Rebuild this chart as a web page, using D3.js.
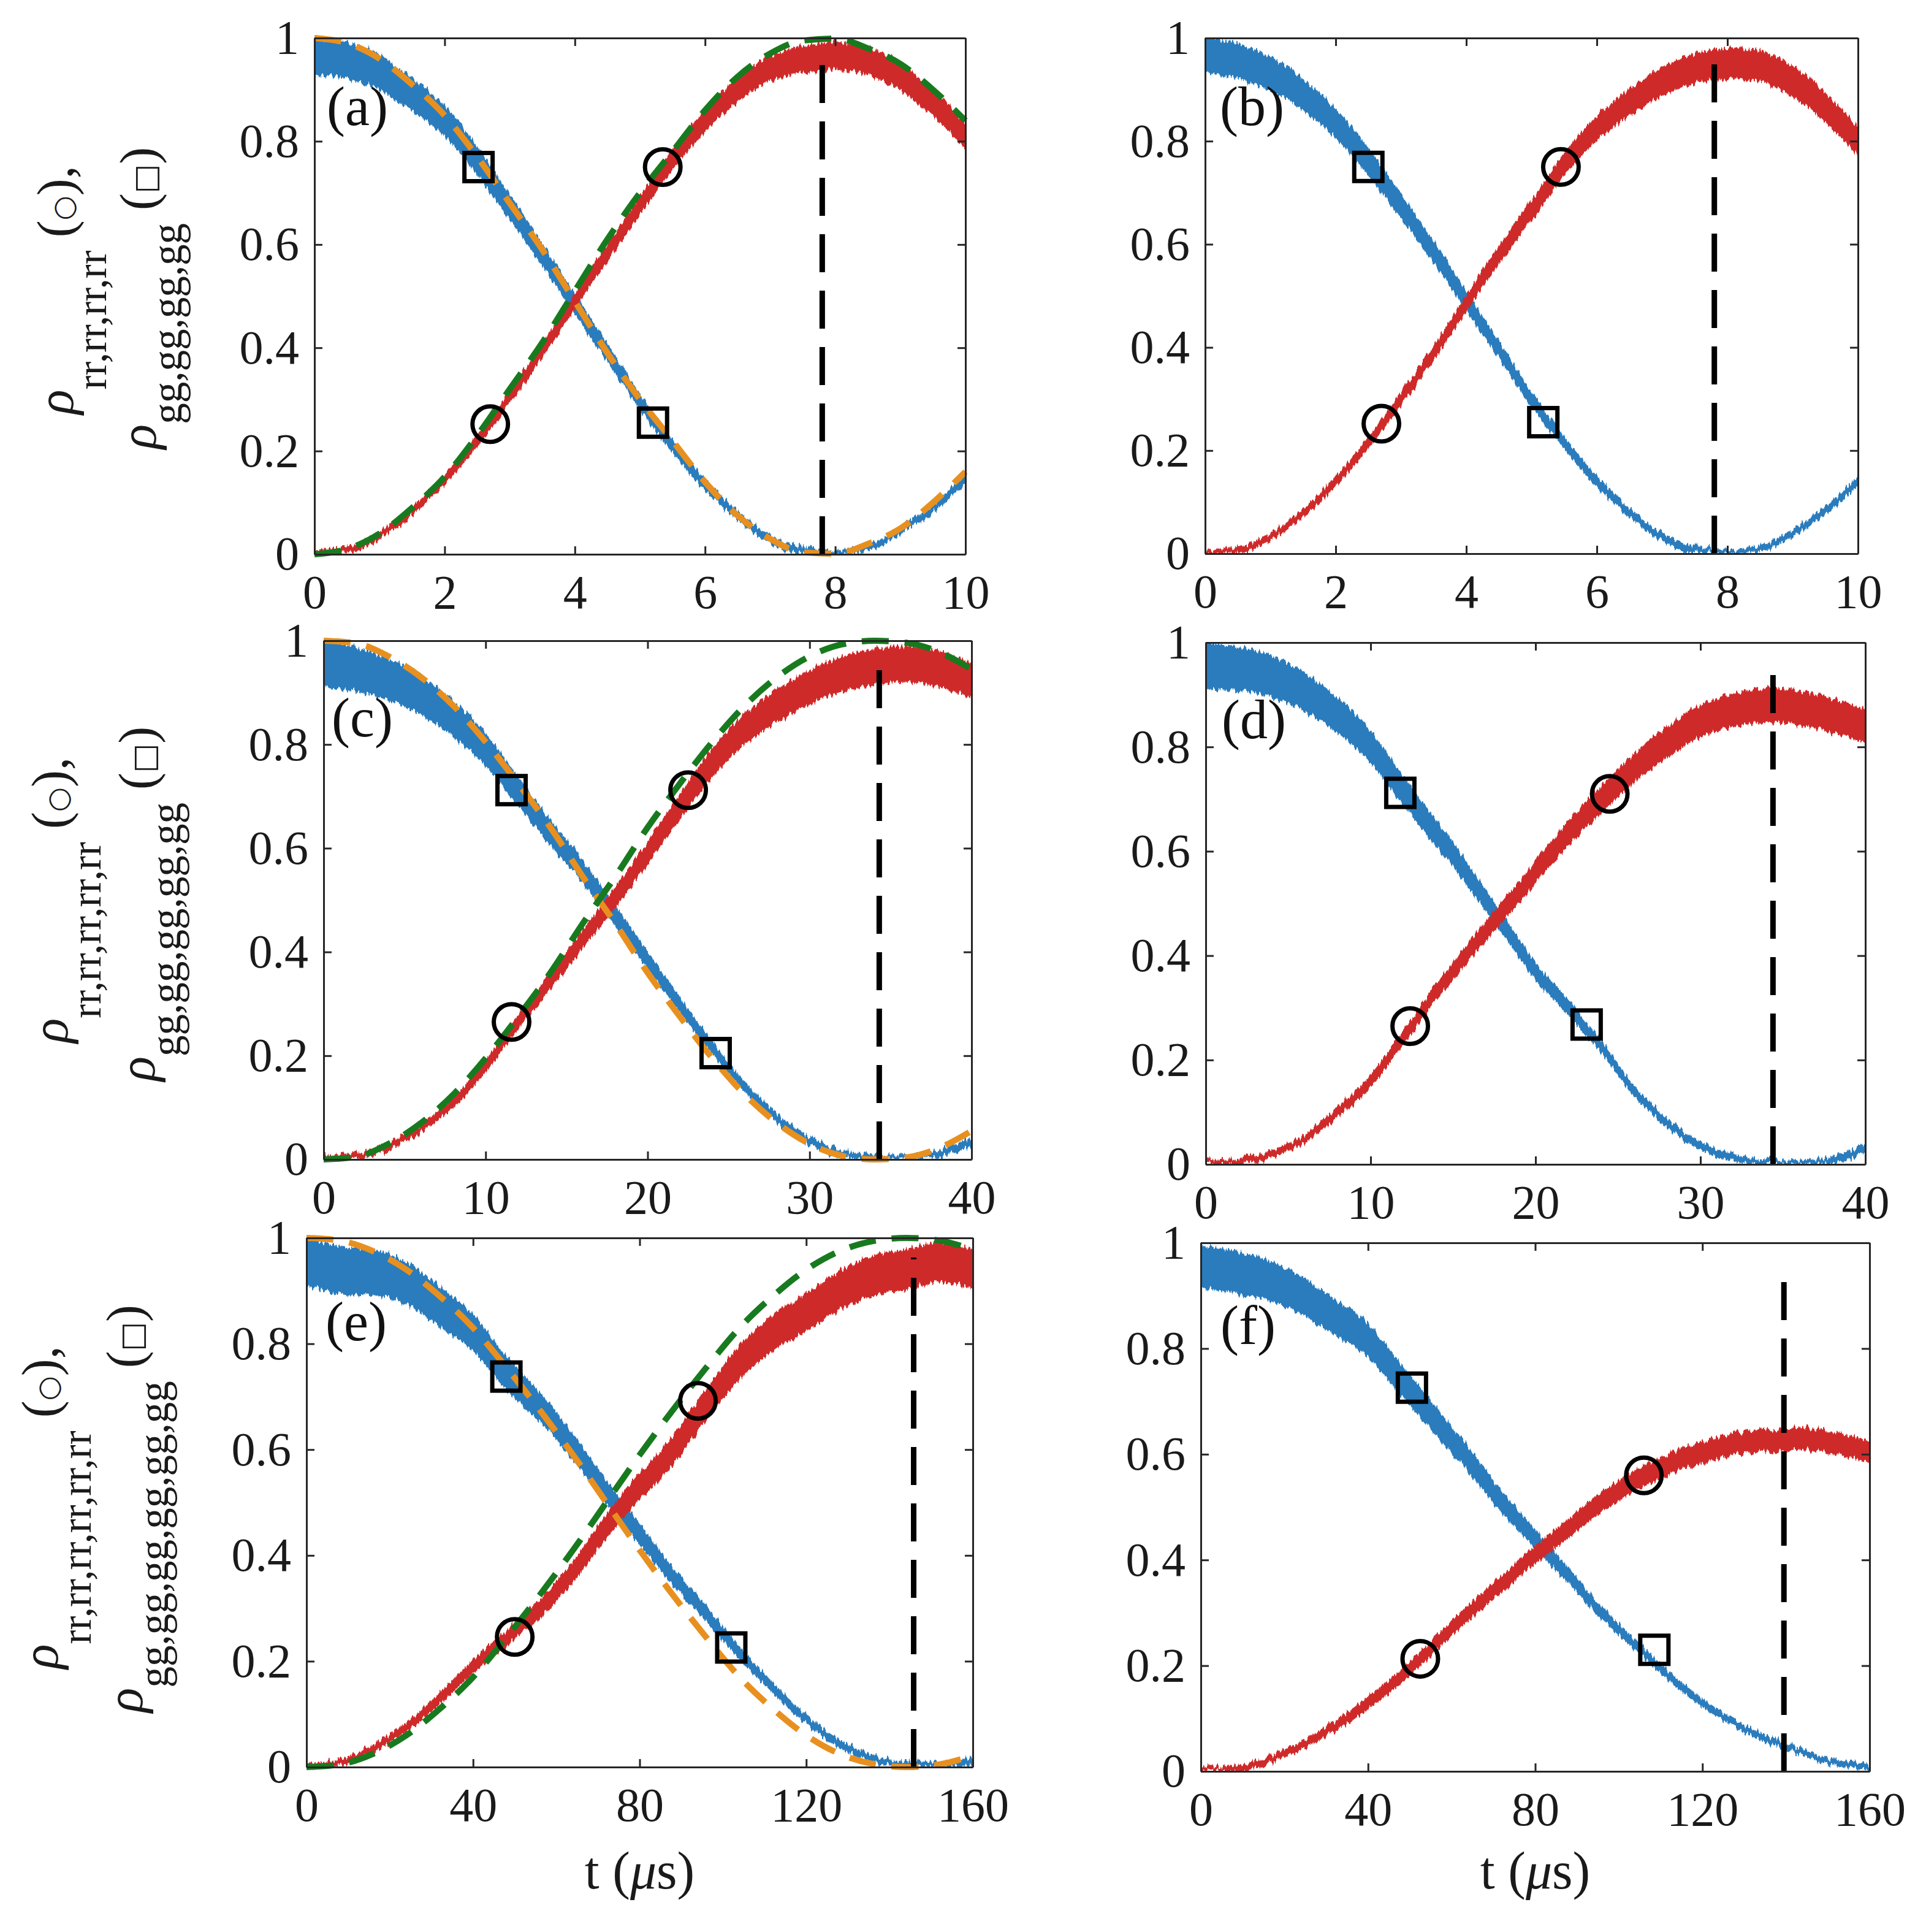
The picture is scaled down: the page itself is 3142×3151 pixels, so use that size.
<!DOCTYPE html>
<html>
<head>
<meta charset="utf-8">
<script src="https://cdn.jsdelivr.net/npm/d3@7"></script>
<style>
body { margin: 0; background: #fff; }
</style>
</head>
<body>
<div id="fig"></div>
<script>
// time grids (us)
var tA = [0,0.5,1,1.5,2,2.5,3,3.5,4,4.5,5,5.5,6,6.5,7,7.5,8,8.5,9,9.5,10]
var tC = [0,2,4,6,8,10,12,14,16,18,20,22,24,26,28,30,32,34,36,38,40]
var tE = [0,8,16,24,32,40,48,56,64,72,80,88,96,104,112,120,128,136,144,152,160]

var yTicks = [0, 0.2, 0.4, 0.6, 0.8, 1]
var xTicksA = [0, 2, 4, 6, 8, 10]
var xTicksC = [0, 10, 20, 30, 40]
var xTicksE = [0, 40, 80, 120, 160]

// (a)
var aGg = [0.964,0.956,0.933,0.89,0.84,0.762,0.672,0.58,0.485,0.39,0.295,0.21,0.135,0.075,0.03,0.008,0.002,0.012,0.045,0.09,0.145]
var aRr = [0.002,0.008,0.035,0.085,0.145,0.22,0.305,0.395,0.49,0.585,0.675,0.765,0.84,0.9,0.94,0.96,0.965,0.955,0.925,0.875,0.81]
var aGgW = [0.035,0.035,0.034,0.032,0.03,0.028,0.025,0.022,0.02,0.018,0.015,0.013,0.011,0.009,0.008,0.007,0.006,0.006,0.007,0.008,0.009]
var aRrW = [0.006,0.006,0.007,0.008,0.01,0.012,0.013,0.014,0.015,0.017,0.018,0.02,0.022,0.024,0.025,0.026,0.027,0.027,0.027,0.026,0.025]
var aGgFit = [1.0,0.99,0.96,0.91,0.85,0.77,0.68,0.59,0.49,0.39,0.3,0.22,0.14,0.075,0.03,0.004,0.001,0.02,0.05,0.1,0.16]
var aRrFit = [0.0,0.01,0.04,0.09,0.15,0.23,0.32,0.41,0.51,0.61,0.7,0.78,0.86,0.925,0.97,0.995,0.999,0.98,0.95,0.9,0.84]
var aSquares = [[2.52,0.75],[5.2,0.255]]
var aCircles = [[2.7,0.252],[5.35,0.75]]
var aVline = [7.8, 0.967]

// (b)
var bGg = [0.965,0.955,0.93,0.89,0.835,0.76,0.675,0.585,0.49,0.395,0.3,0.215,0.14,0.08,0.033,0.009,0.002,0.01,0.04,0.085,0.14]
var bRr = [0.002,0.007,0.033,0.08,0.14,0.215,0.3,0.39,0.485,0.58,0.665,0.755,0.825,0.875,0.915,0.94,0.95,0.945,0.915,0.865,0.8]
var bGgW = [0.035,0.034,0.033,0.031,0.029,0.027,0.024,0.021,0.019,0.017,0.015,0.012,0.011,0.009,0.008,0.007,0.006,0.006,0.007,0.008,0.009]
var bRrW = [0.006,0.006,0.007,0.008,0.01,0.011,0.013,0.014,0.016,0.018,0.02,0.022,0.024,0.026,0.028,0.029,0.03,0.03,0.03,0.029,0.028]
var bSquares = [[2.5,0.75],[5.18,0.255]]
var bCircles = [[2.7,0.252],[5.45,0.75]]
var bVline = [7.8, 0.952]

// (c)
var cGg = [0.955,0.945,0.925,0.895,0.85,0.79,0.71,0.63,0.555,0.47,0.385,0.3,0.215,0.14,0.08,0.035,0.012,0.003,0.002,0.012,0.035]
var cRr = [0.002,0.006,0.025,0.06,0.11,0.18,0.265,0.345,0.425,0.505,0.59,0.68,0.765,0.83,0.875,0.91,0.935,0.95,0.955,0.945,0.925]
var cGgW = [0.045,0.043,0.04,0.038,0.035,0.032,0.028,0.025,0.022,0.02,0.017,0.015,0.012,0.01,0.009,0.008,0.007,0.006,0.006,0.007,0.008]
var cRrW = [0.006,0.006,0.007,0.008,0.01,0.012,0.014,0.016,0.018,0.02,0.022,0.025,0.028,0.03,0.032,0.033,0.034,0.035,0.035,0.035,0.034]
var cGgFit = [1.0,0.995,0.97,0.93,0.875,0.805,0.725,0.64,0.545,0.455,0.36,0.275,0.195,0.125,0.07,0.03,0.007,0.0,0.004,0.022,0.055]
var cRrFit = [0.0,0.005,0.03,0.07,0.125,0.195,0.275,0.36,0.455,0.545,0.64,0.725,0.805,0.875,0.93,0.97,0.993,1.0,0.996,0.978,0.945]
var cSquares = [[11.6,0.712],[24.2,0.205]]
var cCircles = [[11.6,0.265],[22.5,0.712]]
var cVline = [34.3, 0.952]

// (d)
var dGg = [0.955,0.95,0.935,0.905,0.86,0.8,0.715,0.635,0.55,0.46,0.37,0.3,0.225,0.14,0.08,0.035,0.012,0.004,0.002,0.009,0.03]
var dRr = [0.002,0.006,0.02,0.05,0.1,0.16,0.245,0.33,0.41,0.485,0.56,0.635,0.7,0.76,0.81,0.85,0.87,0.88,0.875,0.86,0.84]
var dGgW = [0.045,0.042,0.04,0.037,0.034,0.031,0.028,0.025,0.022,0.019,0.017,0.015,0.012,0.01,0.009,0.008,0.007,0.006,0.006,0.007,0.008]
var dRrW = [0.006,0.006,0.007,0.008,0.01,0.012,0.014,0.016,0.018,0.02,0.022,0.024,0.026,0.028,0.03,0.031,0.032,0.033,0.033,0.033,0.032]
var dSquares = [[11.8,0.712],[23.1,0.268]]
var dCircles = [[12.4,0.265],[24.5,0.71]]
var dVline = [34.4, 0.95]

// (e)
var eGg = [0.955,0.94,0.935,0.915,0.87,0.82,0.745,0.68,0.605,0.52,0.44,0.36,0.29,0.215,0.15,0.09,0.045,0.017,0.004,0.002,0.011]
var eRr = [0.002,0.01,0.035,0.075,0.13,0.19,0.245,0.3,0.37,0.455,0.53,0.6,0.685,0.765,0.82,0.86,0.9,0.93,0.94,0.955,0.94]
var eGgW = [0.045,0.045,0.043,0.04,0.038,0.035,0.032,0.028,0.025,0.022,0.02,0.017,0.015,0.012,0.01,0.009,0.008,0.007,0.006,0.007,0.008]
var eRrW = [0.006,0.006,0.008,0.009,0.011,0.013,0.015,0.018,0.02,0.023,0.025,0.028,0.03,0.032,0.034,0.036,0.037,0.038,0.038,0.038,0.037]
var eGgFit = [1.0,0.995,0.975,0.94,0.89,0.83,0.755,0.675,0.59,0.5,0.41,0.325,0.245,0.17,0.11,0.06,0.025,0.006,0.0,0.005,0.022]
var eRrFit = [0.0,0.005,0.025,0.06,0.11,0.17,0.245,0.325,0.41,0.5,0.59,0.675,0.755,0.83,0.89,0.94,0.975,0.994,1.0,0.995,0.978]
var eSquares = [[48,0.738],[102,0.226]]
var eCircles = [[50,0.246],[94,0.692]]
var eVline = [145.8, 0.963]

// (f)
var fGg = [0.955,0.945,0.93,0.9,0.86,0.815,0.74,0.665,0.59,0.51,0.44,0.37,0.3,0.24,0.18,0.13,0.09,0.06,0.035,0.017,0.007]
var fRr = [0.002,0.006,0.02,0.05,0.085,0.13,0.18,0.24,0.3,0.355,0.41,0.46,0.51,0.55,0.58,0.605,0.62,0.625,0.63,0.62,0.605]
var fGgW = [0.04,0.04,0.038,0.036,0.034,0.032,0.03,0.027,0.024,0.021,0.018,0.015,0.012,0.01,0.009,0.008,0.007,0.007,0.006,0.006,0.006]
var fRrW = [0.006,0.006,0.007,0.008,0.01,0.012,0.013,0.014,0.015,0.016,0.017,0.018,0.019,0.02,0.02,0.021,0.021,0.021,0.021,0.021,0.02]
var fSquares = [[50.5,0.726],[108.5,0.23]]
var fCircles = [[52.5,0.213],[106,0.56]]
var fVline = [139.5, 0.955]

var colBlue = "#2c7bbd", colRed = "#cf2a2a", colOrange = "#e8901f", colGreen = "#187a1f"
var axCol = "#262626"
var serif = "'Liberation Serif', 'Times New Roman', serif"

var panels = [
  {id:"a", L:513, R:1575, T:62, B:904, t:tA, xt:xTicksA, gg:aGg, rr:aRr, ggW:aGgW, rrW:aRrW, ggFit:aGgFit, rrFit:aRrFit, sq:aSquares, ci:aCircles, vl:aVline, lab:[20,142]},
  {id:"b", L:1966, R:3031, T:62, B:903, t:tA, xt:xTicksA, gg:bGg, rr:bRr, ggW:bGgW, rrW:bRrW, sq:bSquares, ci:bCircles, vl:bVline, lab:[24,142]},
  {id:"c", L:528, R:1585, T:1045, B:1891, t:tC, xt:xTicksC, gg:cGg, rr:cRr, ggW:cGgW, rrW:cRrW, ggFit:cGgFit, rrFit:cRrFit, sq:cSquares, ci:cCircles, vl:cVline, lab:[13,156]},
  {id:"d", L:1967, R:3043, T:1048, B:1899, t:tC, xt:xTicksC, gg:dGg, rr:dRr, ggW:dGgW, rrW:dRrW, sq:dSquares, ci:dCircles, vl:dVline, lab:[26,156]},
  {id:"e", L:500, R:1587, T:2019, B:2882, t:tE, xt:xTicksE, gg:eGg, rr:eRr, ggW:eGgW, rrW:eRrW, ggFit:eGgFit, rrFit:eRrFit, sq:eSquares, ci:eCircles, vl:eVline, lab:[31,167]},
  {id:"f", L:1959, R:3050, T:2027, B:2889, t:tE, xt:xTicksE, gg:fGg, rr:fRr, ggW:fGgW, rrW:fRrW, sq:fSquares, ci:fCircles, vl:fVline, lab:[32,165]}
]

// y-label rows: panel id, subscripts, baseline x of both lines, offset of both line centres
var yLabels = [
  {id:"a", sub:["rr,rr,rr,rr", "gg,gg,gg,gg"], x:[119, 254], dy:[-10, 3]},
  {id:"c", sub:["rr,rr,rr,rr,rr", "gg,gg,gg,gg,gg"], x:[110, 252], dy:[0, 6]},
  {id:"e", sub:["rr,rr,rr,rr,rr,rr", "gg,gg,gg,gg,gg,gg"], x:[94, 232], dy:[8, 10]}
]

var svg = d3.select("#fig").append("svg")
  .attr("width", 3142)
  .attr("height", 3151)
  .style("display", "block")

svg.append("rect").attr("width", 3142).attr("height", 3151).attr("fill", "#fff")

// ragged edge for the simulated (noisy) traces
var filt = svg.append("defs").append("filter").attr("id", "rough")
  .attr("x", "-2%").attr("y", "-10%").attr("width", "104%").attr("height", "120%")
filt.append("feTurbulence").attr("type", "fractalNoise")
  .attr("baseFrequency", "0.3 0.004").attr("numOctaves", 2).attr("seed", 4).attr("result", "n")
filt.append("feColorMatrix").attr("in", "n").attr("type", "matrix")
  .attr("values", "0 0 0 0 0.5  0 1 0 0 0  0 0 0 0 0  0 0 0 0 1").attr("result", "m")
filt.append("feDisplacementMap").attr("in", "SourceGraphic").attr("in2", "m")
  .attr("scale", 18).attr("xChannelSelector", "R").attr("yChannelSelector", "G")

panels.forEach(function(p) {
  var x = d3.scaleLinear().domain([0, p.xt[p.xt.length - 1]]).range([p.L, p.R])
  var y = d3.scaleLinear().domain([0, 1]).range([p.B, p.T])
  var g = svg.append("g").attr("class", "panel-" + p.id)

  svg.append("clipPath").attr("id", "clip-" + p.id)
    .append("rect")
    .attr("x", p.L).attr("y", p.T)
    .attr("width", p.R - p.L).attr("height", p.B - p.T)

  var band = d3.area()
    .curve(d3.curveMonotoneX)
    .x(function(d) { return x(d.t) })
    .y0(function(d) { return y(Math.max(0, d.m - d.w)) })
    .y1(function(d) { return y(d.m + d.w) })

  function rows(m, w) {
    return p.t.map(function(t, i) { return {t: t, m: m[i], w: w[i]} })
  }

  var data = g.append("g").attr("clip-path", "url(#clip-" + p.id + ")")
  data.append("path").datum(rows(p.gg, p.ggW)).attr("d", band).attr("fill", colBlue).attr("filter", "url(#rough)")
  data.append("path").datum(rows(p.rr, p.rrW)).attr("d", band).attr("fill", colRed).attr("filter", "url(#rough)")

  // theory curves (dashed)
  var line = d3.line()
    .curve(d3.curveMonotoneX)
    .x(function(d) { return x(d[0]) })
    .y(function(d) { return y(d[1]) })
  if (p.ggFit) {
    g.append("path").datum(d3.zip(p.t, p.ggFit)).attr("d", line)
      .attr("fill", "none").attr("stroke", colOrange).attr("stroke-width", 10)
      .attr("stroke-dasharray", "44,26")
    g.append("path").datum(d3.zip(p.t, p.rrFit)).attr("d", line)
      .attr("fill", "none").attr("stroke", colGreen).attr("stroke-width", 10)
      .attr("stroke-dasharray", "44,26")
  }

  // vertical dashed marker
  g.append("line")
    .attr("x1", x(p.vl[0])).attr("x2", x(p.vl[0]))
    .attr("y1", y(0)).attr("y2", y(p.vl[1]))
    .attr("stroke", "#000").attr("stroke-width", 9)
    .attr("stroke-dasharray", "62,30")

  // markers
  g.selectAll("rect.sq").data(p.sq).enter().append("rect")
    .attr("class", "sq")
    .attr("x", function(d) { return x(d[0]) - 23 })
    .attr("y", function(d) { return y(d[1]) - 23 })
    .attr("width", 46).attr("height", 46)
    .attr("fill", "none").attr("stroke", "#000").attr("stroke-width", 7)
  g.selectAll("circle.ci").data(p.ci).enter().append("circle")
    .attr("class", "ci")
    .attr("cx", function(d) { return x(d[0]) })
    .attr("cy", function(d) { return y(d[1]) })
    .attr("r", 29)
    .attr("fill", "none").attr("stroke", "#000").attr("stroke-width", 7)

  // axes box with inward ticks
  function styleAxis(a) {
    a.attr("font-family", serif).attr("font-size", 78)
    a.select(".domain").attr("stroke", axCol).attr("stroke-width", 3)
    a.selectAll(".tick line").attr("stroke", axCol).attr("stroke-width", 3)
    a.selectAll(".tick text").attr("fill", "#1a1a1a")
  }
  g.append("g").attr("transform", "translate(0," + p.B + ")")
    .call(d3.axisBottom(x).tickValues(p.xt).tickSize(-13).tickSizeOuter(0).tickPadding(33))
    .call(styleAxis)
  g.append("g").attr("transform", "translate(0," + p.T + ")")
    .call(d3.axisTop(x).tickValues(p.xt).tickSize(-13).tickSizeOuter(0).tickFormat(""))
    .call(styleAxis)
  g.append("g").attr("transform", "translate(" + p.L + ",0)")
    .call(d3.axisLeft(y).tickValues(yTicks).tickSize(-13).tickSizeOuter(0).tickPadding(25).tickFormat(d3.format("")))
    .call(styleAxis)
  g.append("g").attr("transform", "translate(" + p.R + ",0)")
    .call(d3.axisRight(y).tickValues(yTicks).tickSize(-13).tickSizeOuter(0).tickFormat(""))
    .call(styleAxis)

  // panel letter
  g.append("text")
    .attr("x", p.L + p.lab[0]).attr("y", p.T + p.lab[1])
    .attr("font-family", serif).attr("font-size", 90).attr("fill", "#111")
    .text("(" + p.id + ")")

  // x label on bottom row
  if (p.id == "e" || p.id == "f") {
    var xl = svg.append("text")
      .attr("x", (p.L + p.R) / 2).attr("y", 3080)
      .attr("text-anchor", "middle")
      .attr("font-family", serif).attr("font-size", 86).attr("fill", "#1a1a1a")
    xl.append("tspan").text("t (")
    xl.append("tspan").attr("font-style", "italic").text("μ")
    xl.append("tspan").text("s)")
  }
})

// y labels, two rotated lines per row
yLabels.forEach(function(r) {
  var p = panels.find(function(q) { return q.id == r.id })
  var cy = (p.T + p.B) / 2
  var lines = [
    {x: r.x[0], y: cy + r.dy[0], sub: r.sub[0], sym: "○", symSize: 46, tail: ",", drop: 54},
    {x: r.x[1], y: cy + r.dy[1], sub: r.sub[1], sym: "□", symSize: 50, tail: "", drop: 42}
  ]
  lines.forEach(function(l) {
    var t = svg.append("text")
      .attr("transform", "translate(" + l.x + "," + l.y + ") rotate(-90)")
      .attr("text-anchor", "middle")
      .attr("font-family", serif).attr("font-size", 84).attr("fill", "#1a1a1a")
    t.append("tspan").attr("font-style", "italic").text("ρ")
    t.append("tspan").attr("font-size", 69).attr("dy", l.drop).text(l.sub)
    t.append("tspan").attr("dy", -l.drop).text(" (")
    t.append("tspan").attr("font-size", l.symSize).attr("font-family", "'DejaVu Sans', sans-serif").text(l.sym)
    t.append("tspan").text(")" + l.tail)
  })
})
</script>
</body>
</html>
